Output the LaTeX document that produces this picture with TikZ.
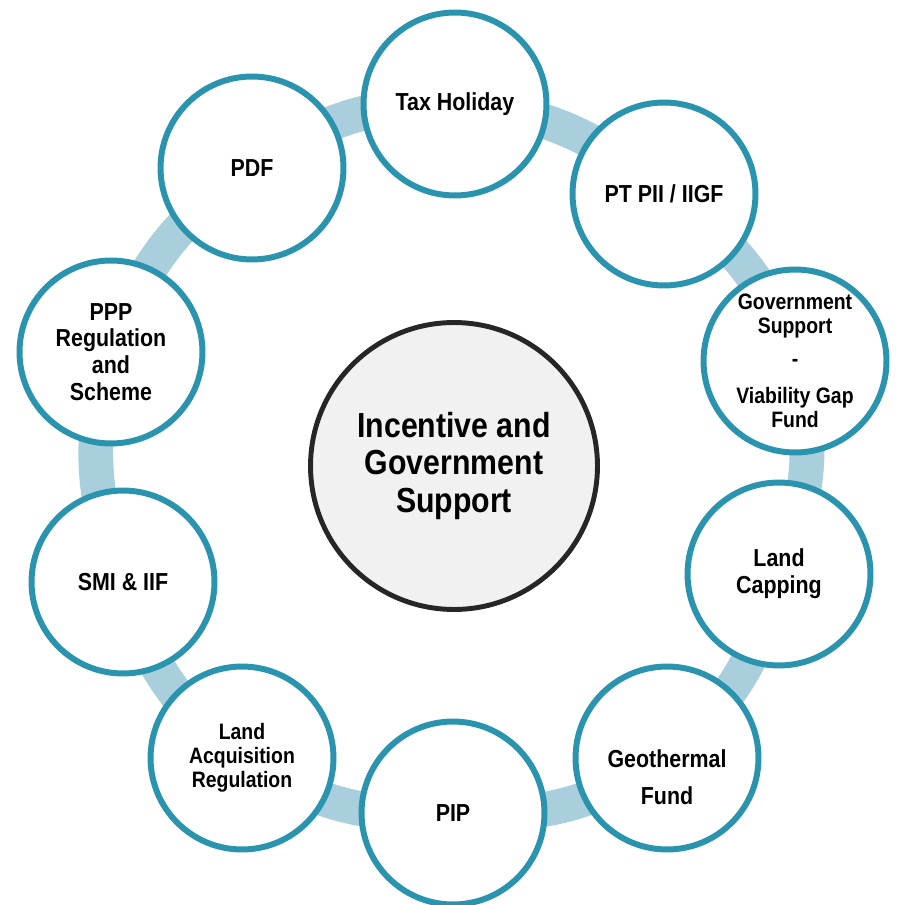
\documentclass[tikz,border=0pt]{standalone}
\usepackage{fontspec}
\setmainfont{Liberation Sans}[FakeStretch=0.87]
\usetikzlibrary{backgrounds, calc}

\definecolor{ringblue}{HTML}{A9CEDC}
\definecolor{tealedge}{HTML}{2A93AE}
\definecolor{hubgray}{HTML}{F1F1F1}
\definecolor{hubedge}{HTML}{262626}

\begin{document}
\begin{tikzpicture}[x=0.02cm, y=0.02cm,
    item/.style={circle, draw=tealedge, line width=3.4pt, fill=white,
      minimum size=3.66cm, inner sep=0pt, align=center,
      font=\bfseries\fontsize{14}{15.3}\selectfont},
    small/.style={font=\bfseries\fontsize{12.7}{13.8}\selectfont},
    hub/.style={circle, draw=hubedge, line width=2.8pt, fill=hubgray,
      minimum size=5.74cm, inner sep=0pt, align=center,
      font=\bfseries\fontsize{19.8}{21.5}\selectfont},
    link/.style={draw=ringblue, line width=19.8pt}]
  \useasboundingbox (0,0) rectangle (901,-905);
  %
  \node[hub] (hub) at (454,-466) {Incentive and\\Government\\Support};
  %
  \node[item] (tax) at (455,-104) {Tax Holiday};
  \node[item] (pt)  at (664,-194) {PT PII / IIGF};
  \node[item, small] (gov) at (795,-361)
    {Government\\Support\\[5pt]-\\[7pt]Viability Gap\\Fund};
  \node[item] (cap) at (779,-574) {Land\\Capping};
  \node[item] (geo) at (667,-758) {};
  \node[align=center, font=\bfseries\fontsize{14}{15.3}\selectfont] (geotext)
    at ($(geo)+(0,-19)$) {Geothermal\\[6pt]Fund};
  \node[item] (pip) at (453,-813) {PIP};
  \node[item, small] (acq) at (242,-758) {Land\\Acquisition\\Regulation};
  \node[item] (smi) at (123,-582) {SMI \& IIF};
  \node[item] (ppp) at (111,-352) {PPP\\Regulation\\and\\Scheme};
  \node[item] (pdf) at (252,-168) {PDF};
  %
  % ring joining the outer circles, centre to centre behind them
  \begin{scope}[on background layer]
    \draw[link] (tax.center) to[bend left=18] (pt.center);
    \draw[link] (pt.center)  to[bend left=18] (gov.center);
    \draw[link] (gov.center) to[bend left=18] (cap.center);
    \draw[link] (cap.center) to[bend left=18] (geo.center);
    \draw[link] (geo.center) to[bend left=18] (pip.center);
    \draw[link] (pip.center) to[bend left=18] (acq.center);
    \draw[link] (acq.center) to[bend left=18] (smi.center);
    \draw[link] (smi.center) to[bend left=18] (ppp.center);
    \draw[link] (ppp.center) to[bend left=18] (pdf.center);
    \draw[link] (pdf.center) to[bend left=18] (tax.center);
  \end{scope}
\end{tikzpicture}
\end{document}
